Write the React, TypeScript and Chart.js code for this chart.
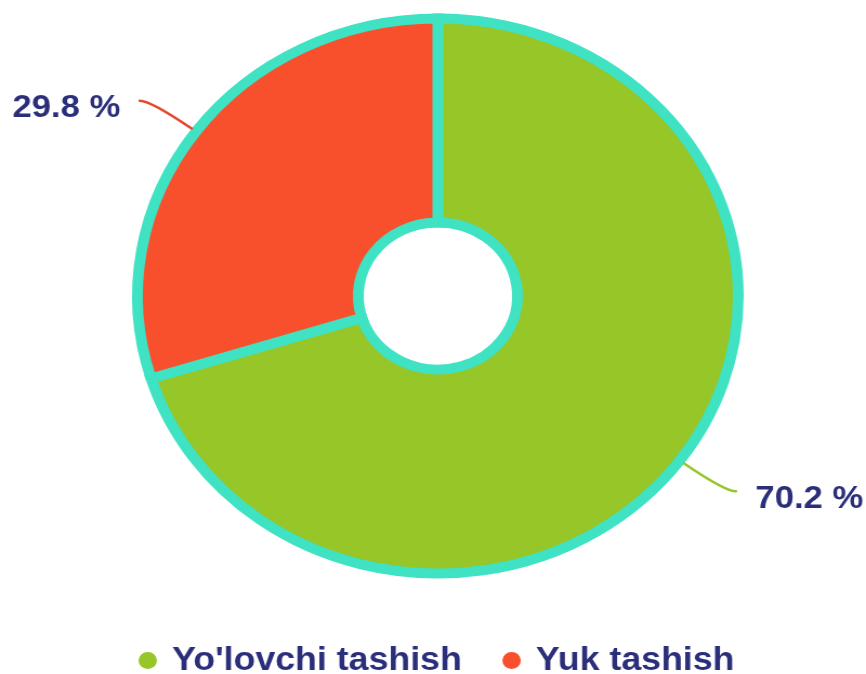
import React, { useEffect, useRef } from "react";
import { Chart, registerables } from "chart.js";

Chart.register(...registerables);

const categories = ["Yo'lovchi tashish", "Yuk tashish"];
const shares = [70.2, 29.8];
const sliceColors = ["#97c629", "#f8502d"];
const leaderColors = ["#97c629", "#e8452f"];
const ringBorder = "#3fe2c2";
const textColor = "#2b2f7a";

const FONT = "'Liberation Sans', Arial, sans-serif";

const leaderLabels = {
  id: "leaderLabels",
  afterDatasetsDraw(chart: any) {
    const ctx = chart.ctx;
    const meta = chart.getDatasetMeta(0);
    const bw = chart.data.datasets[0].borderWidth || 0;
    meta.data.forEach((arc: any, i: number) => {
      const p = arc.getProps(["x", "y", "startAngle", "endAngle", "outerRadius"], true);
      const mid = (p.startAngle + p.endAngle) / 2;
      const c = Math.cos(mid);
      const s = Math.sin(mid);
      const r0 = p.outerRadius + bw / 2;
      const r1 = r0 + 47;
      const dir = c >= 0 ? 1 : -1;
      const x0 = p.x + r0 * c;
      const y0 = p.y + r0 * s;
      const x1 = p.x + r1 * c;
      const y1 = p.y + r1 * s;
      const x2 = x1 + dir * 10;
      ctx.save();
      ctx.strokeStyle = leaderColors[i];
      ctx.lineWidth = 2.5;
      ctx.lineCap = "round";
      ctx.beginPath();
      ctx.moveTo(x0, y0);
      ctx.quadraticCurveTo(x1, y1, x2, y1);
      ctx.stroke();
      ctx.fillStyle = textColor;
      ctx.font = `bold 32px ${FONT}`;
      ctx.textAlign = dir > 0 ? "left" : "right";
      ctx.textBaseline = "middle";
      ctx.fillText(`${shares[i].toFixed(1)} %`, x2 + dir * 18, y1 + 8);
      ctx.restore();
    });
  },
};

export default function App() {
  const ref = useRef<HTMLCanvasElement | null>(null);
  useEffect(() => {
    document.body.style.margin = "0";
    document.body.style.overflow = "hidden";
    const chart = new Chart(ref.current as HTMLCanvasElement, {
      type: "doughnut",
      data: {
        labels: categories,
        datasets: [
          {
            data: shares,
            backgroundColor: sliceColors,
            borderColor: ringBorder,
            borderWidth: 10,
            borderJoinStyle: "miter",
          } as any,
        ],
      },
      options: {
        animation: false,
        responsive: false,
        events: [],
        radius: 277.5,
        cutout: "26.5%",
        layout: { padding: { top: 0, left: 9, right: 0, bottom: -13 } },
        plugins: {
          tooltip: { enabled: false },
          legend: {
            position: "bottom",
            labels: {
              usePointStyle: true,
              pointStyle: "circle",
              boxWidth: 12,
              boxHeight: 12,
              padding: 40,
              color: textColor,
              font: { family: FONT, size: 33, weight: "bold" },
              generateLabels: (chart: any) => {
                const items = Chart.overrides.doughnut.plugins.legend.labels.generateLabels(chart);
                return items.map((it: any, i: number) => ({
                  ...it,
                  fillStyle: sliceColors[i],
                  strokeStyle: sliceColors[i],
                  lineWidth: 0,
                }));
              },
            },
          },
        },
      } as any,
      plugins: [leaderLabels],
    });
    return () => chart.destroy();
  }, []);
  return (
    <div style={{ width: 800, height: 686, marginTop: -12, transform: "scaleX(1.0825)", transformOrigin: "0 0" }}>
      <canvas ref={ref} width={800} height={686} style={{ width: 800, height: 686, display: "block" }} />
    </div>
  );
}
